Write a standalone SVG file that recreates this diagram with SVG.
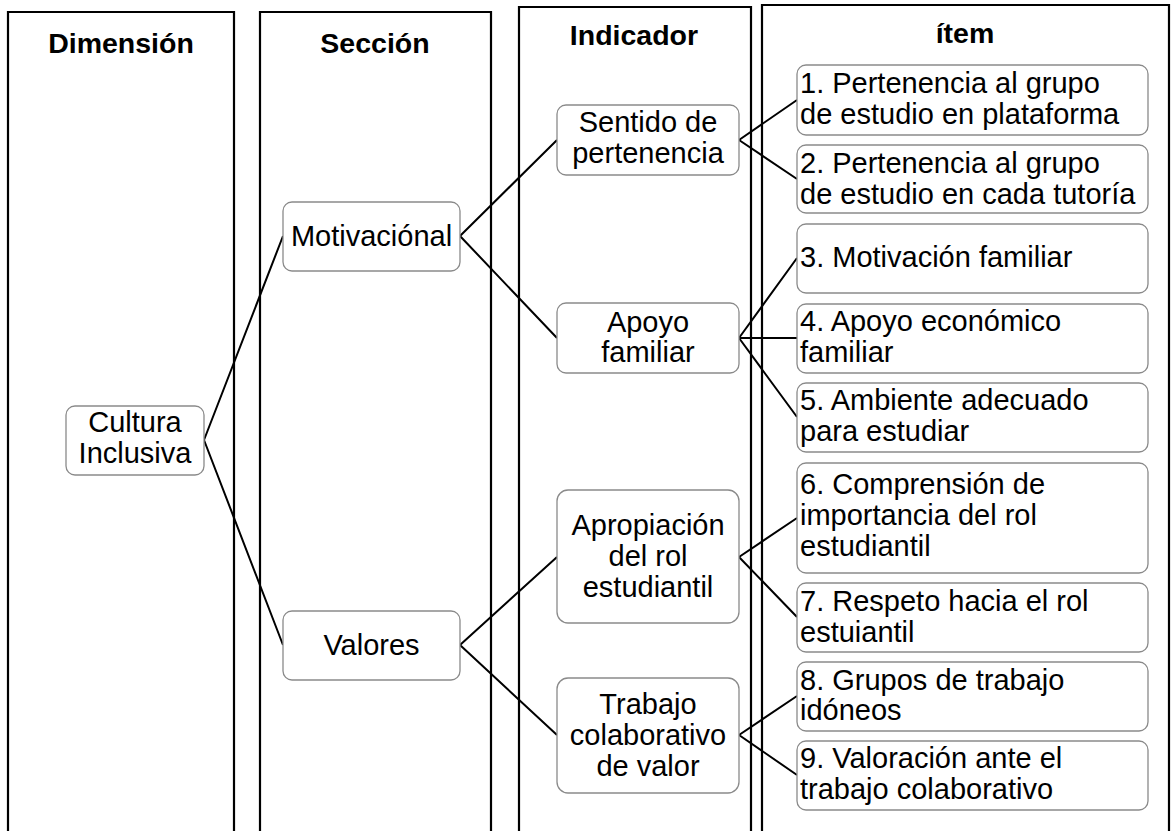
<svg xmlns="http://www.w3.org/2000/svg" width="1174" height="831" viewBox="0 0 1174 831">
<style>
.col{fill:none;stroke:#000;stroke-width:2.2}
.hd{font-family:"Liberation Sans",Arial,sans-serif;font-size:28.5px;font-weight:bold;fill:#000;text-anchor:middle}
.box{fill:#fff;stroke:#8a8a8a;stroke-width:1.3}
.t{font-family:"Liberation Sans",Arial,sans-serif;font-size:29px;fill:#000}
.c{text-anchor:middle}
.ln{fill:none;stroke:#000;stroke-width:2}
</style>
<rect width="1174" height="831" fill="#fff"/>
<g id="columns">
<path class="col" d="M8,832 V12 H234 V832"/>
<path class="col" d="M260,832 V12 H491 V832"/>
<path class="col" d="M519,832 V7 H751 V832"/>
<path class="col" d="M762,832 V5 H1169 V832"/>
<text class="hd" x="121" y="53">Dimensión</text>
<text class="hd" x="375" y="53">Sección</text>
<text class="hd" x="634" y="45">Indicador</text>
<text class="hd" x="965" y="43">ítem</text>
</g>
<g id="connectors">
<path class="ln" d="M204,440 L283,236 M204,440 L283,645"/>
<path class="ln" d="M460,236 L557,140 M460,236 L557,338"/>
<path class="ln" d="M460,645 L557,557 M460,645 L557,735"/>
<path class="ln" d="M739,140 L797,100 M739,140 L797,179"/>
<path class="ln" d="M739,338 L797,258 M739,338 L797,338 M739,338 L797,417"/>
<path class="ln" d="M739,557 L797,518 M739,557 L797,617"/>
<path class="ln" d="M739,735 L797,696 M739,735 L797,775"/>
</g>
<g id="n-cultura"><rect class="box" x="66" y="406" width="138" height="69" rx="9"/><text class="t c" x="135" y="432">Cultura</text><text class="t c" x="135" y="463">Inclusiva</text></g>
<g id="n-motivacional"><rect class="box" x="283" y="202" width="177" height="69" rx="9"/><text class="t c" x="371.5" y="246">Motivaciónal</text></g>
<g id="n-valores"><rect class="box" x="283" y="611" width="177" height="69" rx="9"/><text class="t c" x="371.5" y="655">Valores</text></g>
<g id="n-sentido"><rect class="box" x="557" y="105" width="182" height="70" rx="9"/><text class="t c" x="648" y="132">Sentido de</text><text class="t c" x="648" y="163">pertenencia</text></g>
<g id="n-apoyo"><rect class="box" x="557" y="303" width="182" height="70" rx="9"/><text class="t c" x="648" y="332">Apoyo</text><text class="t c" x="648" y="362">familiar</text></g>
<g id="n-apropiacion"><rect class="box" x="557" y="490" width="182" height="133" rx="11"/><text class="t c" x="648" y="535">Apropiación</text><text class="t c" x="648" y="566">del rol</text><text class="t c" x="648" y="597">estudiantil</text></g>
<g id="n-trabajo"><rect class="box" x="557" y="678" width="182" height="115" rx="11"/><text class="t c" x="648" y="714">Trabajo</text><text class="t c" x="648" y="745">colaborativo</text><text class="t c" x="648" y="776">de valor</text></g>
<g id="i1"><rect class="box" x="797" y="65" width="351" height="70" rx="9"/><text class="t" x="800" y="93">1. Pertenencia al grupo</text><text class="t" x="800" y="124">de estudio en plataforma</text></g>
<g id="i2"><rect class="box" x="797" y="145" width="351" height="68" rx="9"/><text class="t" x="800" y="173">2. Pertenencia al grupo</text><text class="t" x="800" y="204">de estudio en cada tutoría</text></g>
<g id="i3"><rect class="box" x="797" y="224" width="351" height="69" rx="9"/><text class="t" x="800" y="267">3. Motivación familiar</text></g>
<g id="i4"><rect class="box" x="797" y="304" width="351" height="69" rx="9"/><text class="t" x="800" y="331">4. Apoyo económico</text><text class="t" x="800" y="362">familiar</text></g>
<g id="i5"><rect class="box" x="797" y="383" width="351" height="69" rx="9"/><text class="t" x="800" y="410">5. Ambiente adecuado</text><text class="t" x="800" y="441">para estudiar</text></g>
<g id="i6"><rect class="box" x="797" y="463" width="351" height="110" rx="9"/><text class="t" x="800" y="494">6. Comprensión de</text><text class="t" x="800" y="525">importancia del rol</text><text class="t" x="800" y="556">estudiantil</text></g>
<g id="i7"><rect class="box" x="797" y="583" width="351" height="69" rx="9"/><text class="t" x="800" y="611">7. Respeto hacia el rol</text><text class="t" x="800" y="642">estuiantil</text></g>
<g id="i8"><rect class="box" x="797" y="662" width="351" height="69" rx="9"/><text class="t" x="800" y="690">8. Grupos de trabajo</text><text class="t" x="800" y="720">idóneos</text></g>
<g id="i9"><rect class="box" x="797" y="741" width="351" height="69" rx="9"/><text class="t" x="800" y="768">9. Valoración ante el</text><text class="t" x="800" y="799">trabajo colaborativo</text></g>
</svg>
